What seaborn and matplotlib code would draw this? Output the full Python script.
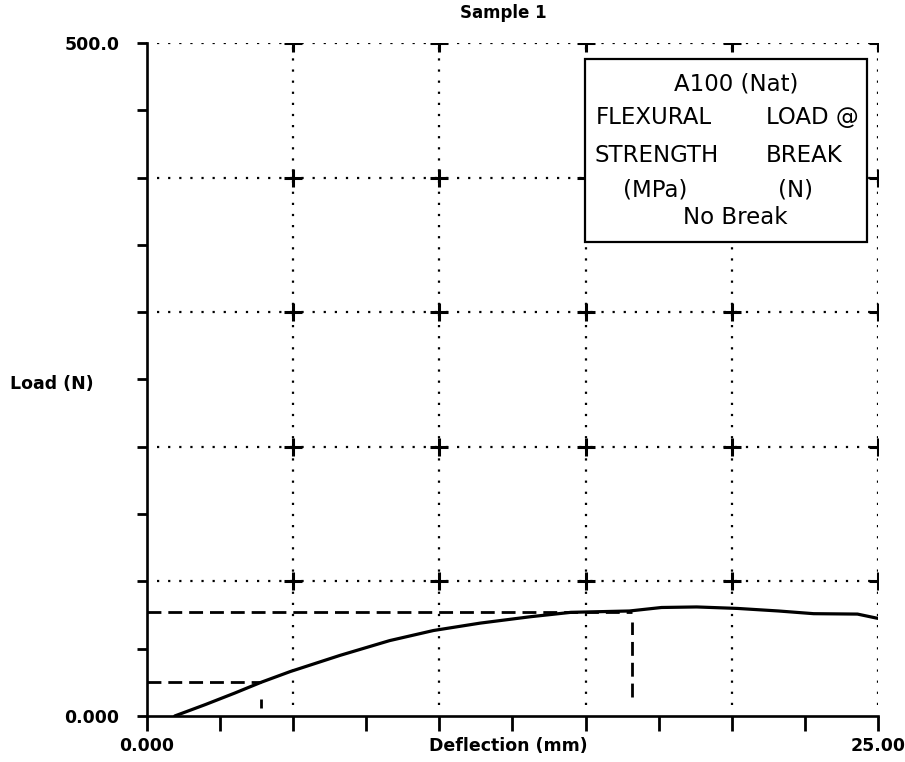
import matplotlib
matplotlib.use("Agg")
import matplotlib.pyplot as plt
from matplotlib.patches import Rectangle
import numpy as np
import pandas as pd
import seaborn as sns

# load-deflection curve
deflection_mm = [0.95, 2.0, 3.0, 3.9, 4.9, 6.6, 8.3, 9.8, 11.4, 13.1, 14.5,
                 16.5, 17.6, 18.8, 20.2, 21.6, 22.8, 24.3, 25.0]
load_n = [0.0, 8.5, 17.0, 25.0, 33.0, 45.0, 56.0, 63.5, 69.0, 73.7, 77.0,
          78.0, 80.6, 81.0, 79.9, 78.0, 76.0, 75.7, 72.5]

# dashed reference markers
peak_defl, peak_load = 16.6, 77.5
low_defl, low_load = 3.9, 25.4

x_grid = [5, 10, 15, 20, 25]
y_grid = [100, 200, 300, 400, 500]
x_ticks = np.arange(0, 25.01, 2.5)
y_ticks = np.arange(0, 500.1, 50)
x_ticklabels = {0.0: "0.000", 25.0: "25.00"}
y_ticklabels = {0.0: "0.000", 500.0: "500.0"}

legend_lines = ["A100 (Nat)", "FLEXURAL", "LOAD @", "STRENGTH", "BREAK",
                "(MPa)", "(N)", "No Break"]

sns.set_style("ticks")
plt.rcParams["font.family"] = ["DejaVu Sans"]
plt.rcParams.update({"text.color": "black", "axes.labelcolor": "black",
                     "xtick.color": "black", "ytick.color": "black",
                     "axes.edgecolor": "black"})

fig = plt.figure(figsize=(9.05, 7.62), dpi=100)
ax = fig.add_axes([0.1624, 0.0604, 0.8077, 0.8832])

df = pd.DataFrame({"Deflection": deflection_mm, "Load": load_n})
sns.lineplot(data=df, x="Deflection", y="Load", ax=ax, color="black",
             linewidth=2.3, sort=False)

# dotted grid with crosses at intersections
dot = (0, (1, 4))
ax.hlines(y_grid, 0.35, 25, colors="black", linestyles=[dot], linewidth=1.6)
ax.vlines(x_grid, 8, 500, colors="black", linestyles=[dot], linewidth=1.6)
gx, gy = np.meshgrid(x_grid, y_grid)
ax.scatter(gx.ravel(), gy.ravel(), marker="+", s=170, linewidths=2.2,
           color="black", zorder=3)

# dashed markers
dash = (0, (5, 2.5))
ax.hlines([peak_load], 0, peak_defl, colors="black", linestyles=[dash], linewidth=2)
ax.vlines([peak_defl], 14, 70, colors="black", linestyles=[dash], linewidth=2)
ax.hlines([low_load], 0, low_defl, colors="black", linestyles=[dash], linewidth=2)
ax.vlines([low_defl], 6, 12.6, colors="black", linestyles=[dash], linewidth=2)

ax.set_xlim(0, 25)
ax.set_ylim(0, 500)
ax.set_xticks(x_ticks)
ax.set_yticks(y_ticks)
ax.set_xticklabels([x_ticklabels.get(float(v), "") for v in x_ticks])
ax.set_yticklabels([y_ticklabels.get(float(v), "") for v in y_ticks])
ax.tick_params(axis="x", length=11, width=2, pad=4, labelsize=12.5)
ax.tick_params(axis="y", length=7, width=2, pad=13, labelsize=12.5)
for lab in ax.get_xticklabels() + ax.get_yticklabels():
    lab.set_fontweight("bold")

for s in ["top", "right"]:
    ax.spines[s].set_visible(False)
for s in ["left", "bottom"]:
    ax.spines[s].set_linewidth(1.9)

ax.set_xlabel("Deflection (mm)", fontsize=12.5, fontweight="bold", va="top")
ax.xaxis.set_label_coords(0.494, -0.031)
ax.set_ylabel("Load (N)", fontsize=12.5, fontweight="bold", rotation=0,
              ha="center", va="center")
ax.yaxis.set_label_coords(-0.13, 0.494)
ax.text(0.487, 1.045, "Sample 1", transform=ax.transAxes, ha="center",
        va="center", fontsize=12, fontweight="bold")

# legend box, placed in figure pixels
W, H = 905, 762
def fx(px):
    return px / W
def fy(py):
    return 1 - py / H

fig.patches.append(Rectangle((fx(585), fy(242)), fx(867) - fx(585),
                             fy(59) - fy(242), transform=fig.transFigure,
                             fill=True, facecolor="white", edgecolor="black",
                             linewidth=1.6, zorder=5))
pos = [(736, 84), (654, 118), (812, 118), (657, 155), (804, 155),
       (655, 190), (795, 190), (735, 217)]
for txt, (px, py) in zip(legend_lines, pos):
    fig.text(fx(px), fy(py), txt, ha="center", va="center", fontsize=16.5,
             zorder=6)

fig.savefig("out.png", dpi=100)
